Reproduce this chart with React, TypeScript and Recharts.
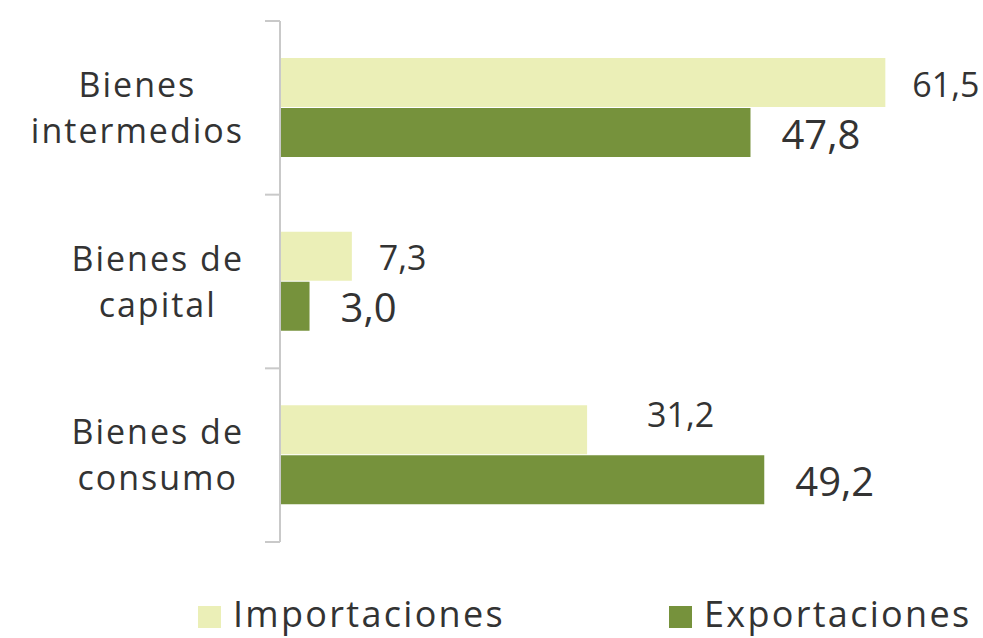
import React from 'react';
import { BarChart, Bar, XAxis, YAxis, LabelList } from 'recharts';

const CATEGORIES = ['Bienes intermedios', 'Bienes de capital', 'Bienes de consumo'];
const IMPORTACIONES = [61.5, 7.3, 31.2];
const EXPORTACIONES = [47.8, 3.0, 49.2];
const X_DOMAIN: [number, number] = [0, 70];

const IMPORT_COLOR = '#ebefb7';
const EXPORT_COLOR = '#76923c';
const AXIS_COLOR   = '#c9c9c9';
const TEXT_COLOR   = '#333333';
const FONT         = '"Open Sans", "DejaVu Sans", sans-serif';
const CAT_FONT_SIZE = 34;
const CAT_SPACING   = 2;

// the 31,2 label sits higher and further right in the original
const IMPORT_NUDGE: Record<number, { dx: number; dy: number }> = {
  2: { dx: 33, dy: -17 },
};

const data = CATEGORIES.map((name, i) => ({
  name,
  imp: IMPORTACIONES[i],
  exp: EXPORTACIONES[i],
}));

const fmt = (v: number) => v.toFixed(1).replace('.', ',');

let ctx: CanvasRenderingContext2D | null = null;
function textWidth(s: string) {
  if (!ctx) ctx = document.createElement('canvas').getContext('2d');
  if (!ctx) return s.length * CAT_FONT_SIZE * 0.55;
  ctx.font = `${CAT_FONT_SIZE}px ${FONT}`;
  return ctx.measureText(s).width + CAT_SPACING * (s.length - 1);
}

function CategoryTick(props: any) {
  const { x, y, payload, index } = props;
  const half = payload?.offset ?? 86.8;
  const text: string = payload.value;
  const cut = text.lastIndexOf(' ');
  const lines = [text.slice(0, cut), text.slice(cut + 1)];
  // block of lines is right-aligned, each line centred inside it
  const blockW = Math.max(...lines.map(textWidth));
  const cx = x - 38 - blockW / 2;
  const textStyle = { fontFamily: FONT, fontSize: CAT_FONT_SIZE, letterSpacing: CAT_SPACING, fill: TEXT_COLOR };
  return (
    <g>
      <line x1={x - 15} x2={x} y1={y - half} y2={y - half} stroke={AXIS_COLOR} strokeWidth={2} />
      {index === CATEGORIES.length - 1 && (
        <line x1={x - 15} x2={x} y1={y + half} y2={y + half} stroke={AXIS_COLOR} strokeWidth={2} />
      )}
      <text x={cx + CAT_SPACING / 2} y={y - 11} textAnchor="middle" style={textStyle}>{lines[0]}</text>
      <text x={cx + CAT_SPACING / 2} y={y + 35} textAnchor="middle" style={textStyle}>{lines[1]}</text>
    </g>
  );
}

function ImportLabel(props: any) {
  const { x, y, width, height, value, index } = props;
  const n = IMPORT_NUDGE[index] ?? { dx: 0, dy: 0 };
  return (
    <text
      x={x + width + 27 + n.dx}
      y={y + height / 2 + 14 + n.dy}
      style={{ fontFamily: FONT, fontSize: 34, fill: TEXT_COLOR }}
    >
      {fmt(value)}
    </text>
  );
}

function ExportLabel(props: any) {
  const { x, y, width, height, value } = props;
  return (
    <text
      x={x + width + 31}
      y={y + height / 2 + 16}
      style={{ fontFamily: FONT, fontSize: 40, fill: TEXT_COLOR }}
    >
      {fmt(value)}
    </text>
  );
}

function LegendRow() {
  const items = [
    { label: 'Importaciones', color: IMPORT_COLOR },
    { label: 'Exportaciones', color: EXPORT_COLOR },
  ];
  return (
    <div
      style={{
        position: 'absolute',
        left: 198,
        top: 596,
        display: 'flex',
        gap: 164,
        fontFamily: FONT,
        fontSize: 36,
        lineHeight: '36px',
        letterSpacing: 2.3,
        color: TEXT_COLOR,
      }}
    >
      {items.map((it) => (
        <div key={it.label} style={{ display: 'flex', alignItems: 'flex-start', gap: 12 }}>
          <span style={{ width: 23, height: 22, marginTop: 10, background: it.color, display: 'block' }} />
          <span>{it.label}</span>
        </div>
      ))}
    </div>
  );
}

export default function App() {
  return (
    <div style={{ position: 'absolute', left: 0, top: 0, width: 983, height: 638, background: '#fff' }}>
      <BarChart
        width={983}
        height={638}
        data={data}
        layout="vertical"
        margin={{ top: 21, right: 14, left: 0, bottom: 96 }}
        barSize={49}
        barGap={1}
      >
        <XAxis type="number" domain={X_DOMAIN} hide />
        <YAxis
          type="category"
          dataKey="name"
          width={280}
          axisLine={{ stroke: AXIS_COLOR, strokeWidth: 2 }}
          tickLine={false}
          tickSize={0}
          tickMargin={0}
          tick={<CategoryTick />}
          interval={0}
        />
        <Bar dataKey="imp" fill={IMPORT_COLOR} isAnimationActive={false}>
          <LabelList dataKey="imp" content={<ImportLabel />} />
        </Bar>
        <Bar dataKey="exp" fill={EXPORT_COLOR} isAnimationActive={false}>
          <LabelList dataKey="exp" content={<ExportLabel />} />
        </Bar>
      </BarChart>
      <LegendRow />
    </div>
  );
}
